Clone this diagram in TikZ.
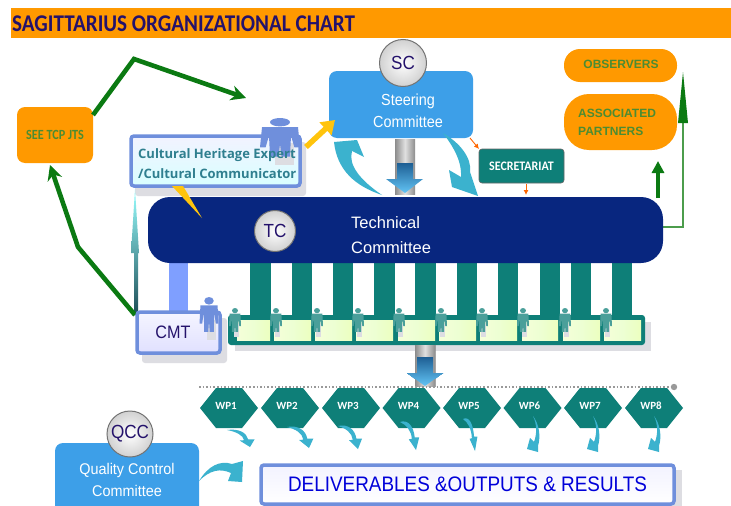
\documentclass[tikz,border=0pt]{standalone}
\usepackage{graphicx}
\usepackage{fontspec}
\setmainfont{Liberation Sans}
\newfontfamily\calib{Carlito}
\newfontfamily\opens{Open Sans}
\usetikzlibrary{arrows.meta}
\definecolor{orangeC}{HTML}{FF9900}
\definecolor{titleC}{HTML}{24126B}
\definecolor{greenC}{HTML}{0B7A12}
\definecolor{greenT}{HTML}{4C8C32}
\definecolor{tealC}{HTML}{0E7F78}
\definecolor{navyC}{HTML}{08267F}
\definecolor{skyC}{HTML}{3D9FE8}
\definecolor{frameC}{HTML}{6F8FDC}
\definecolor{linkC}{HTML}{7F9FFF}
\definecolor{cyanC}{HTML}{3BB2CE}
\definecolor{shadowC}{HTML}{DDDDE2}
\definecolor{yellowC}{HTML}{FFC40C}
\definecolor{pipeTop}{HTML}{1E5F94}
\definecolor{pipeBot}{HTML}{62C4F5}
\definecolor{cultT}{HTML}{2F7F8F}
\tikzset{
  orangebox/.style={fill=orangeC,rounded corners=8pt},
  pill/.style={fill=orangeC,rounded corners=16pt},
  skybox/.style={fill=skyC,rounded corners=8pt},
  shadowbox/.style={fill=shadowC,rounded corners=3pt},
  disc/.style={circle,draw=black!55,line width=1pt,inner color=white,outer color=black!18,inner sep=0pt,text=titleC},
  greenarrow/.style={draw=greenC,line width=4.6pt,-{Stealth[length=15pt,width=15pt]}},
  thinorange/.style={draw=orange!80!red,line width=.9pt,-{Latex[length=5pt,width=5pt]}},
  hexlabel/.style={font=\calib\bfseries\fontsize{11}{11}\selectfont,text=white,inner sep=0pt},
  whitetext/.style={text=white,align=center,inner sep=0pt},
  pillabel/.style={text=greenT,font=\bfseries\fontsize{12}{18}\selectfont,inner sep=0pt,align=left}
}
\newcommand\bx[7][]{%
  \pgfmathsetmacro\cxx{(#3+#5)/2}\pgfmathsetmacro\cyy{(#4+#6)/2}%
  \pgfmathsetmacro\bw{#5-#3}\pgfmathsetmacro\bh{#6-#4}%
  \node[#1,minimum width=\bw pt,minimum height=\bh pt,inner sep=0pt,outer sep=0pt] (#2) at (\cxx,\cyy) {#7};}
\newcommand\person[5]{% cx, top, width, height, colour
  \begin{scope}[shift={(#1,#2)},x=#3pt/2,y=-#4pt]
    \fill[shadowC] (-.25,.6) rectangle (.7,1.12);
    \fill[#5] (0,.1) ellipse [x radius=.5,y radius=.1];
    \fill[#5] (-.9,.22)--(.9,.22)--(1,.7)--(.72,.7)--(.55,.42)--(.5,.92)--(.08,.92)--(0,.62)--(-.08,.92)--(-.5,.92)--(-.55,.42)--(-.72,.7)--(-1,.7)--cycle;
  \end{scope}}
\newcommand\swooshA[4]{% tail x,y ; dx, dy
  \begin{scope}[shift={(#1,#2)},x=#3pt,y=-#4pt]
    \fill[cyanC] (0,0) .. controls (.5,-.1) and (.85,.15) .. (.92,.55) -- (1.2,.55) -- (1,1) -- (.55,.62) -- (.74,.6) .. controls (.7,.3) and (.4,.1) .. (0,0) -- cycle;
  \end{scope}}
\newcommand\swooshB[2]{% tail x,y
  \begin{scope}[shift={(#1,#2)}]
    \fill[cyanC] (0,0) .. controls (6,8) and (8,20) .. (5,30) -- (5,36) -- (-6,33) -- (-3,22) -- (1,26) .. controls (4,18) and (4,8) .. (0,0) -- cycle;
  \end{scope}}
\newcommand\hexa[3]{% name, cx, label
  \fill[tealC] (#2-29,408)--(#2-13,388)--(#2+13,388)--(#2+29,408)--(#2+13,428)--(#2-13,428)--cycle;
  \node[hexlabel] (#1) at (#2-3,406) {#3};}
\newcommand\downpipe[3]{% left x, top y, bottom y
  \path[left color=black!45,right color=black!45,middle color=black!12] (#1,#2) rectangle (#1+20,#3);
  \path[top color=pipeTop,bottom color=pipeBot] (#1+2,#2+12) -- (#1+18,#2+12) -- (#1+18,#3-13) -- (#1+28,#3-13) -- (#1+10,#3) -- (#1-8,#3-13) -- (#1+2,#3-13) -- cycle;}
\begin{document}
\begin{tikzpicture}[x=1pt,y=-1pt]
\clip (0,0) rectangle (731,506);
\fill[white] (0,0) rectangle (731,506);
% title
\bx[fill=orangeC]{title}{11}{8}{731}{38}{}
\node[font=\calib\bfseries\fontsize{24}{24}\selectfont,text=titleC,anchor=west,inner sep=0pt] (titletext) at (12,23.5) {\scalebox{.88}[1]{SAGITTARIUS ORGANIZATIONAL CHART}};
% tcp
\bx[orangebox]{tcp}{17}{107}{93}{163}{\calib\bfseries\fontsize{14}{14}\selectfont\textcolor{greenT}{\scalebox{.87}[1]{SEE TCP JTS}}}
% steering
\path[left color=black!45,right color=black!45,middle color=black!12] (395,139) rectangle (415,194);
\bx[skybox]{sc}{329}{71}{473}{138}{}
\node[whitetext,font=\fontsize{16}{22}\selectfont] (sctext) at (408,111) {\scalebox{.9}[1]{Steering}\\\scalebox{.9}[1]{Committee}};
\node[disc,minimum size=47pt,font=\fontsize{19}{20}\selectfont] (sccircle) at (403,63) {\scalebox{.9}[1]{SC}};
% big curved arrows
\fill[cyanC] (382,195) .. controls (355,186) and (337,170) .. (334,142) -- (357,140) -- (364,157) -- (352,151) .. controls (348,165) and (360,180) .. (382,195) -- cycle;
\fill[cyanC] (443,133) .. controls (460,143) and (472,158) .. (470,172) -- (478,196) -- (452,187) -- (449,170) -- (461,177) .. controls (462,160) and (452,145) .. (443,133) -- cycle;
\path[top color=pipeTop,bottom color=pipeBot] (397,163) -- (413,163) -- (413,179) -- (423,179) -- (405,193) -- (386,179) -- (397,179) -- cycle;
% secretariat
\bx[fill=tealC,draw=black!60,line width=.6pt,rounded corners=3pt]{sec}{479}{149}{564}{183}{\calib\bfseries\fontsize{13}{13}\selectfont\textcolor{white}{\scalebox{.92}[1]{SECRETARIAT}}}
\coordinate (scout) at (470,138);
\draw[thinorange] (scout) -- (sec.north west);
\coordinate (tcin) at (526,195);
\draw[thinorange] (526,184) -- (tcin);
% observers
\bx[pill]{obs}{564}{49}{677}{82}{}
\node[pillabel] (obstext) at (621,64) {OBSERVERS};
\bx[fill=orangeC,rounded corners=25pt]{assoc}{564}{94}{677}{150}{}
\node[pillabel,anchor=west] (assoctext) at (578,122) {ASSOCIATED\\PARTNERS};
% feeds from TC to partners
\coordinate (tcr) at (663,227);
\coordinate (bend) at (683,227);
\coordinate (obstip) at (683,72);
\draw[draw=green!45!black!70,line width=1.5pt] (tcr) -- (bend) -- (683,122);
\path[fill=greenC] (obstip) -- (688,123) -- (678,123) -- cycle;
\coordinate (tctop) at (658,198);
\coordinate (assoctip) at (658,161);
\draw[greenC,line width=3.5pt,-{Triangle[length=12pt,width=12pt]}] (tctop) -- (assoctip);
% teal columns
\foreach \xa/\xb in {250/271,292/312,333/353,374/395,415/436,457/477,498/518,540/560,571/591,612/632}
  \fill[tealC] (\xa,262) rectangle (\xb,316);
% TC
\fill[linkC] (169,262) rectangle (188,312);
\bx[fill=navyC,rounded corners=22pt]{tc}{148}{197}{663}{263}{}
\node[whitetext,align=left,anchor=west,font=\fontsize{16.5}{25}\selectfont] (tctext) at (351,235) {Technical\\Committee};
\node[disc,minimum size=41pt,font=\fontsize{19}{20}\selectfont] (tccircle) at (275,231) {\scalebox{.9}[1]{TC}};
% Cultural
\bx[shadowbox]{culturalshadow}{135}{142}{306}{196}{}
\bx[draw=frameC,line width=3.5pt,rounded corners=3pt,top color=blue!5,bottom color=cyan!15]{cultural}{131}{136}{300}{186}{}
\person{280}{118}{40}{42}{frameC}
\node[font=\opens\bfseries\fontsize{13}{20}\selectfont,text=cultT,align=left,inner sep=0pt,anchor=west] (culturaltext) at (138,164) {Cultural Heritage Expert\\/Cultural Communicator};
% yellow arrows
\coordinate (culturalout) at (306,147);
\coordinate (sctip) at (335,120);
\draw[yellowC,line width=5.5pt,-{Triangle[length=13pt,width=17pt]}] (culturalout) -- (sctip);
\fill[yellowC] (172,186) -- (183,186) -- (202,218) -- cycle;
% blue vertical
\path[top color=cyan!40,bottom color=cultT!60!black] (135,189) -- (131,253) -- (134,253) -- (134,315) -- (138,315) -- (138,253) -- (139,253) -- cycle;
% green connectors
\coordinate (tcptop) at (93,115);
\coordinate (bendA) at (134,59);
\coordinate (scin) at (246,98);
\draw[greenarrow,line join=miter] (tcptop) -- (bendA) -- (scin);
\coordinate (cmtcorner) at (135,315);
\coordinate (bendB) at (78,247);
\coordinate (tcpin) at (50,165);
\draw[greenarrow,line join=round] (cmtcorner) -- (bendB) -- (tcpin);
% CMT
\bx[shadowbox]{cmtshadow}{142}{318}{227}{363}{}
\bx[draw=frameC,line width=3.5pt,rounded corners=3pt,top color=blue!4,bottom color=blue!12]{cmt}{137}{312}{220}{353}{\hspace*{-11pt}\raisebox{-1.5pt}{\fontsize{18}{18}\selectfont\textcolor{titleC}{\scalebox{.9}[1]{CMT}}}}
\person{209}{297}{19}{38}{frameC}
% WP row
\fill[shadowC] (235,340) rectangle (651,351);
\fill[shadowC] (640,322) rectangle (651,351);
\bx[fill=tealC,rounded corners=3pt]{team}{228}{315}{645}{345}{}
\foreach \xa/\xb in {237/270,274/311,315/352,356/393,398/435,439/476,480/517,522/558,563/600,604/641}
  \path[left color=green!25!yellow!15,right color=green!30!yellow!25,middle color=green!8!white!90!yellow] (\xa,320) rectangle (\xb,340);
\foreach \cx in {235,276,317,358,399,441,482,523,565,606}
  \person{\cx}{308}{12}{26}{tealC!75!white}
% pipe to WPs
\downpipe{415}{345}{386}
% dotted line
\coordinate (dotA) at (199,387);
\coordinate (dotB) at (674,387);
\draw[black!40,line width=1.6pt,dotted] (dotA) -- (dotB);
\fill[black!40] (dotB) circle (3.2);
% hexagons
\hexa{wpa}{229}{WP1}
\hexa{wpb}{290}{WP2}
\hexa{wpc}{351}{WP3}
\hexa{wpd}{411.5}{WP4}
\hexa{wpe}{472}{WP5}
\hexa{wpf}{532.5}{WP6}
\hexa{wpg}{593}{WP7}
\hexa{wph}{654}{WP8}
\swooshA{227}{430}{23}{17}
\swooshA{287}{427}{22}{21}
\swooshA{338}{426}{20}{23}
\swooshA{400}{422}{16}{28}
\swooshA{463}{419}{12}{32}
\swooshB{533}{416}
\swooshB{593}{416}
\swooshB{654}{416}
% deliverables
\fill[shadowC] (268,470) rectangle (682,506);
\bx[draw=frameC,line width=3.5pt,rounded corners=3pt,top color=blue!5,bottom color=white]{deliv}{261}{465}{674}{504}{\fontsize{21}{21}\selectfont\textcolor{blue!85!black}{\scalebox{.9}[1]{DELIVERABLES \&OUTPUTS \& RESULTS}}}
% QCC
\bx[skybox]{qcc}{55}{443}{199}{514}{}
\node[whitetext,font=\fontsize{15.5}{22}\selectfont] (qcctext) at (127,480) {\scalebox{.93}[1]{Quality Control}\\\scalebox{.93}[1]{Committee}};
\node[disc,minimum size=46pt,font=\fontsize{19}{20}\selectfont] (qcccircle) at (130,434) {\scalebox{.9}[1]{QCC}};
\fill[cyanC] (199,481) .. controls (208,466) and (220,460) .. (232,464) -- (243,461) -- (242,482) -- (228,481) -- (231,473) .. controls (220,468) and (210,470) .. (199,481) -- cycle;
\end{tikzpicture}
\end{document}
